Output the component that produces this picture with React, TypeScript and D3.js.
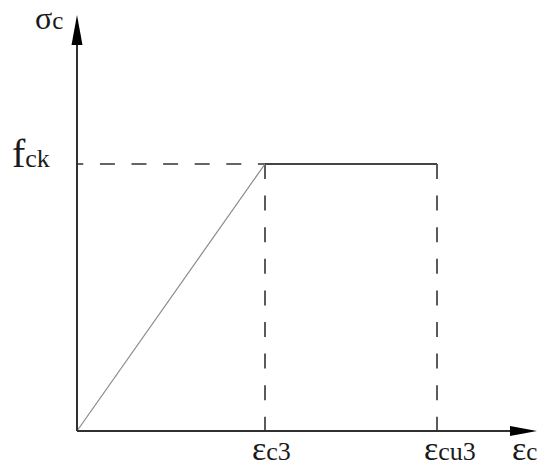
import React from "react";
import * as d3 from "d3";

// Idealised stress–strain diagram for concrete (bilinear)
const strainNames = ["0", "c3", "cu3"];
const strainValues = [0, 1.88, 3.6];
const stressValues = [0, 1, 1]; // relative to fck
const strainMax = 4.6;
const stressMax = 1.558;

const W = 542;
const H = 468;
const origin = { x: 77, y: 431 };

const FONT = "Liberation Serif";

export default function App() {
  const x = d3.scaleLinear().domain([0, strainMax]).range([origin.x, 537]);
  const y = d3.scaleLinear().domain([0, stressMax]).range([origin.y, 15]);

  const pts: [number, number][] = strainValues.map((s, i) => [x(s), y(stressValues[i])]);
  const rising = d3.line()([pts[0], pts[1]]) as string;
  const plateau = d3.line()([pts[1], pts[2]]) as string;

  const fckY = y(1);
  const xEnd = x(strainMax);
  const yEnd = y(stressMax);
  const axisColor = "#303030";
  const textColor = "#1a1a1a";
  const textStyle = { fontFamily: FONT };

  // period of dashed guides
  const dash = "15 16.6";

  return (
    <svg
      width={W}
      height={H}
      style={{ position: "absolute", left: 0, top: 0, background: "#fff" }}
    >
      <rect width={W} height={H} fill="#fff" />

      {/* dashed guides */}
      <line
        x1={origin.x}
        y1={fckY}
        x2={pts[1][0]}
        y2={fckY}
        stroke="#333"
        strokeWidth={1.6}
        strokeDasharray={dash}
        strokeDashoffset={8.7}
      />
      {[1, 2].map((i) => (
        <line
          key={i}
          x1={x(strainValues[i])}
          y1={fckY}
          x2={x(strainValues[i])}
          y2={origin.y}
          stroke="#333"
          strokeWidth={1.6}
          strokeDasharray={dash}
        />
      ))}

      {/* curve */}
      <path d={rising} fill="none" stroke="#8a8a8a" strokeWidth={1.2} />
      <path d={plateau} fill="none" stroke="#444" strokeWidth={1.8} />

      {/* axes */}
      <line x1={origin.x} y1={origin.y} x2={xEnd - 26} y2={origin.y} stroke={axisColor} strokeWidth={2} />
      <line x1={origin.x} y1={origin.y} x2={origin.x} y2={yEnd + 28} stroke={axisColor} strokeWidth={2} />
      <path
        d={`M${xEnd},${origin.y} L${xEnd - 27},${origin.y - 5} L${xEnd - 27},${origin.y + 5} Z`}
        fill="#000"
      />
      <path
        d={`M${origin.x},${yEnd} L${origin.x - 5.5},${yEnd + 30} L${origin.x + 5.5},${yEnd + 30} Z`}
        fill="#000"
      />

      {/* axis labels */}
      <text x={35} y={29} fill={textColor} style={textStyle}>
        <tspan fontSize={32}>σ</tspan>
        <tspan fontSize={25}>c</tspan>
      </text>
      <text x={512} y={460} fill={textColor} style={textStyle}>
        <tspan fontSize={34}>ε</tspan>
        <tspan fontSize={25}>c</tspan>
      </text>

      {/* tick labels */}
      <text x={12} y={167} fill={textColor} style={textStyle}>
        <tspan fontSize={40}>f</tspan>
        <tspan fontSize={26}>ck</tspan>
      </text>
      {[1, 2].map((i) => (
        <text key={i} x={x(strainValues[i]) - 13} y={460} fill={textColor} style={textStyle}>
          <tspan fontSize={34}>ε</tspan>
          <tspan fontSize={26}>{strainNames[i]}</tspan>
        </text>
      ))}
    </svg>
  );
}
